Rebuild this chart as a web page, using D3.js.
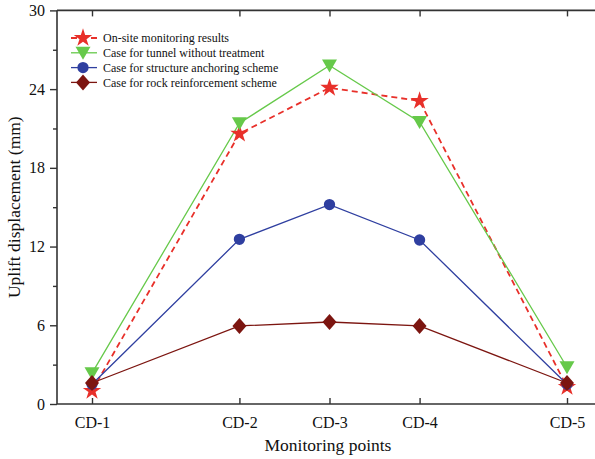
<!DOCTYPE html>
<html>
<head>
<meta charset="utf-8">
<script src="https://cdn.jsdelivr.net/npm/d3@7/dist/d3.min.js"></script>
<style>
  html, body { margin: 0; padding: 0; background: #fff; }
  svg { display: block; font-family: "Liberation Serif", "Times New Roman", serif; }
</style>
</head>
<body>
<svg id="chart" width="595" height="459"></svg>
<script>
// Monitoring points and their chainage along the tunnel (m)
const points = ["CD-1", "CD-2", "CD-3", "CD-4", "CD-5"];
const chainage = [0, 18, 29, 40, 58];

// Uplift displacement (mm) at each monitoring point
const onSite      = [1.0, 20.6, 24.1, 23.1, 1.3];
const noTreatment = [2.35, 21.4, 25.8, 21.5, 2.8];
const anchoring   = [1.5, 12.55, 15.2, 12.5, 1.5];
const reinforce   = [1.6, 5.95, 6.25, 5.95, 1.6];

const yTicks = [0, 6, 12, 18, 24, 30];
const yMinorTicks = [3, 9, 15, 21, 27];

const series = [
  { name: "On-site monitoring results",          values: onSite,      color: "#e8302a", dash: "6,4", marker: "star" },
  { name: "Case for tunnel without treatment",   values: noTreatment, color: "#66c94a", dash: null,  marker: "triangleDown" },
  { name: "Case for structure anchoring scheme", values: anchoring,   color: "#2f3fa0", dash: null,  marker: "circle" },
  { name: "Case for rock reinforcement scheme",  values: reinforce,   color: "#7c1510", dash: null,  marker: "diamond" }
];

const svg = d3.select("#chart");
const plotLeft = 57, plotTop = 10.4, plotBottom = 404;
const k = (567 - 92) / 58;
const x = d3.scaleLinear().domain([-4.27, 62]).range([92 - 4.27 * k, 92 + 62 * k]);
const y = d3.scaleLinear().domain([0, 30]).range([plotBottom, plotTop]);

const axisColor = "#333";

// Marker shapes
function markerPath(type) {
  if (type === "star") return d3.symbol(d3.symbolStar, 105)();
  if (type === "circle") return d3.symbol(d3.symbolCircle, 100)();
  if (type === "diamond") return "M0,-8L7,0L0,8L-7,0Z";
  if (type === "triangleDown") return "M-7.5,-6L7.5,-6L0,7Z";
}

// Series lines
const line = d3.line()
  .x((d, i) => x(chainage[i]))
  .y(d => y(d));

const g = svg.append("g");
series.forEach(s => {
  g.append("path")
    .datum(s.values)
    .attr("d", line)
    .attr("fill", "none")
    .attr("stroke", s.color)
    .attr("stroke-width", s.dash ? 1.8 : 1.3)
    .attr("stroke-dasharray", s.dash);
});
series.forEach(s => {
  g.selectAll(null)
    .data(s.values)
    .enter().append("path")
    .attr("d", markerPath(s.marker))
    .attr("transform", (d, i) => `translate(${x(chainage[i])},${y(d)})`)
    .attr("fill", s.color);
});

// Frame: left, top and bottom edges
const xEnd = 600;
svg.append("line").attr("x1", plotLeft).attr("x2", plotLeft).attr("y1", plotTop).attr("y2", plotBottom)
  .attr("stroke", axisColor).attr("stroke-width", 1.6);
svg.append("line").attr("x1", plotLeft).attr("x2", xEnd).attr("y1", plotTop).attr("y2", plotTop)
  .attr("stroke", axisColor).attr("stroke-width", 1.6);
svg.append("line").attr("x1", plotLeft).attr("x2", xEnd).attr("y1", plotBottom).attr("y2", plotBottom)
  .attr("stroke", axisColor).attr("stroke-width", 1.6);

// Bottom axis (ticks pointing inward)
const xAxis = d3.axisBottom(x)
  .tickValues(chainage)
  .tickFormat((d, i) => points[i])
  .tickSizeInner(-6).tickSizeOuter(0).tickPadding(13);
const gx = svg.append("g").attr("transform", `translate(0,${plotBottom})`).call(xAxis);
gx.select(".domain").remove();
gx.selectAll(".tick line").attr("stroke", axisColor).attr("stroke-width", 1.4);
gx.selectAll(".tick text").attr("fill", "#111").attr("font-size", 16)
  .attr("font-family", "Liberation Serif, serif");

// Top mirror ticks
const xTop = d3.axisTop(x).tickValues(chainage).tickFormat("").tickSizeInner(-6).tickSizeOuter(0);
const gxt = svg.append("g").attr("transform", `translate(0,${plotTop})`).call(xTop);
gxt.select(".domain").remove();
gxt.selectAll(".tick line").attr("stroke", axisColor).attr("stroke-width", 1.4);

// Left axis
const yAxis = d3.axisLeft(y).tickValues(yTicks).tickFormat(d3.format("d"))
  .tickSizeInner(7).tickSizeOuter(0).tickPadding(5);
const gy = svg.append("g").attr("transform", `translate(${plotLeft},0)`).call(yAxis);
gy.select(".domain").remove();
gy.selectAll(".tick line").attr("stroke", axisColor).attr("stroke-width", 1.4);
gy.selectAll(".tick text").attr("fill", "#111").attr("font-size", 16)
  .attr("font-family", "Liberation Serif, serif");

const yMinor = d3.axisLeft(y).tickValues(yMinorTicks).tickFormat("").tickSizeInner(4).tickSizeOuter(0);
const gym = svg.append("g").attr("transform", `translate(${plotLeft},0)`).call(yMinor);
gym.select(".domain").remove();
gym.selectAll(".tick line").attr("stroke", axisColor).attr("stroke-width", 1.4);

// Axis titles
svg.append("text")
  .attr("x", 328).attr("y", 451)
  .attr("text-anchor", "middle")
  .attr("font-size", 17.5).attr("fill", "#111")
  .text("Monitoring points");
svg.append("text")
  .attr("transform", `translate(20,${(plotTop + plotBottom) / 2}) rotate(-90)`)
  .attr("text-anchor", "middle")
  .attr("font-size", 17.5).attr("fill", "#111")
  .text("Uplift displacement (mm)");

// Legend
const legend = svg.append("g").attr("transform", "translate(71,38)");
series.forEach((s, i) => {
  const row = legend.append("g").attr("transform", `translate(0,${i * 14.8})`);
  row.append("line").attr("x1", 0).attr("x2", 26).attr("y1", 0).attr("y2", 0)
    .attr("stroke", s.color).attr("stroke-width", s.dash ? 1.8 : 1.3)
    .attr("stroke-dasharray", s.dash);
  row.append("path").attr("d", markerPath(s.marker))
    .attr("transform", "translate(12,0)").attr("fill", s.color);
  row.append("text").attr("x", 32).attr("y", 4.2)
    .attr("font-size", 12).attr("fill", "#111")
    .text(s.name);
});
</script>
</body>
</html>
